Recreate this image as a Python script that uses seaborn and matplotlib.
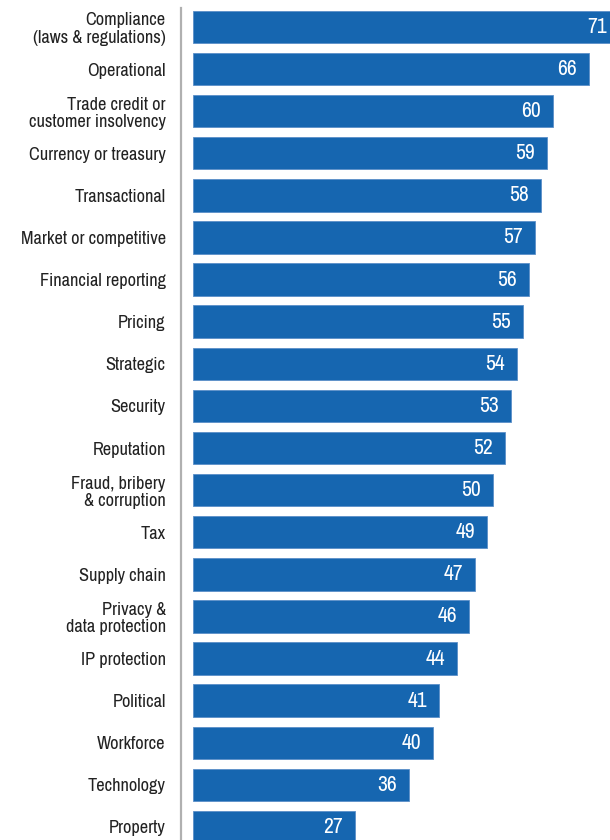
import matplotlib
matplotlib.use("Agg")
import matplotlib.pyplot as plt
import seaborn as sns
import pandas as pd

categories = [
    "Compliance\n(laws & regulations)",
    "Operational",
    "Trade credit or\ncustomer insolvency",
    "Currency or treasury",
    "Transactional",
    "Market or competitive",
    "Financial reporting",
    "Pricing",
    "Strategic",
    "Security",
    "Reputation",
    "Fraud, bribery\n& corruption",
    "Tax",
    "Supply chain",
    "Privacy &\ndata protection",
    "IP protection",
    "Political",
    "Workforce",
    "Technology",
    "Property",
]
values = [71, 66, 60, 59, 58, 57, 56, 55, 54, 53, 52, 50, 49, 47, 46, 44, 41, 40, 36, 27]

BAR_BLUE = "#1666b0"
TEXT_DARK = "#222222"

sns.set_theme(style="white")
plt.rcParams["font.family"] = ["Archivo Narrow", "DejaVu Sans"]

df = pd.DataFrame({"risk": categories, "pct": values})

fig = plt.figure(figsize=(6.1, 8.4), dpi=100)
ax = fig.add_axes([181 / 610, 0, 1 - 181 / 610, (840 - 8) / 840])

sns.barplot(data=df, y="risk", x="pct", orient="h", color=BAR_BLUE,
            saturation=1, width=0.77, edgecolor="#5b8fc8", linewidth=0.6, ax=ax)

ax.set_xlim(-2, 69.5)
ax.set_ylim(19.31, -0.45)

for i, v in enumerate(values):
    ax.text(v - 2, i, str(v), ha="right", va="center", color="white",
            fontsize=15.5, clip_on=False)

for side in ["top", "right", "bottom"]:
    ax.spines[side].set_visible(False)
ax.spines["left"].set_color("#b0b0b0")
ax.spines["left"].set_linewidth(1.6)

ax.set_xticks([])
ax.set_xlabel("")
ax.set_ylabel("")
ax.tick_params(axis="y", length=0, pad=11, labelsize=13.2, labelcolor=TEXT_DARK)
for lbl in ax.get_yticklabels():
    lbl.set_horizontalalignment("right")
    lbl.set_linespacing(1.1)

fig.savefig("out.png", dpi=100)
